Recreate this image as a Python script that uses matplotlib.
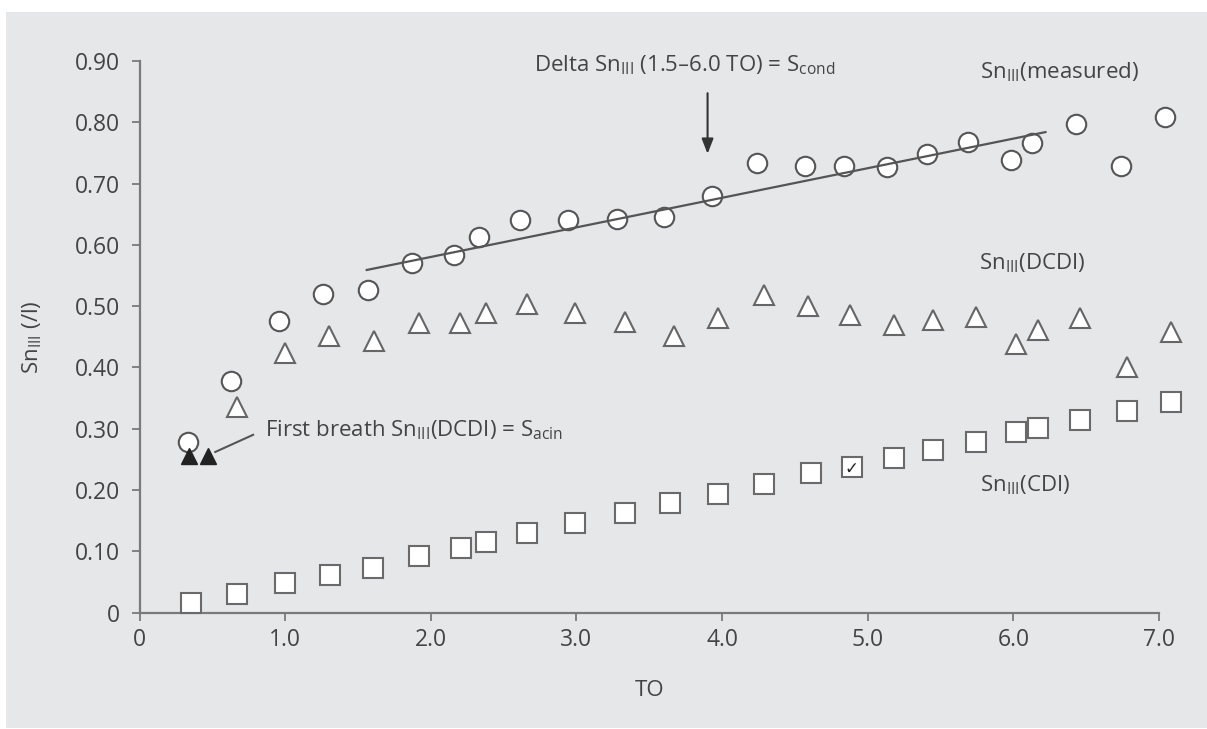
import matplotlib
matplotlib.use("Agg")
import matplotlib.pyplot as plt
from matplotlib.patches import Rectangle

plt.rcParams["font.family"] = ["Open Sans", "DejaVu Sans"]

TEXT_COLOR = "#444444"
AXIS_COLOR = "#7a7a7a"
PANEL_COLOR = "#e6e7e9"

# Sn_III (measured)
measured_to = [0.33, 0.63, 0.96, 1.26, 1.57, 1.87, 2.16, 2.33, 2.61, 2.94, 3.28, 3.60,
               3.93, 4.24, 4.57, 4.84, 5.13, 5.41, 5.69, 5.98, 6.13, 6.43, 6.74, 7.04]
measured_sn = [0.279, 0.377, 0.476, 0.520, 0.527, 0.571, 0.584, 0.612, 0.640, 0.640, 0.642, 0.645,
               0.679, 0.733, 0.728, 0.728, 0.727, 0.749, 0.768, 0.738, 0.767, 0.798, 0.728, 0.809]

# Sn_III (DCDI)
dcdi_to = [0.67, 1.00, 1.30, 1.61, 1.92, 2.20, 2.38, 2.66, 2.99, 3.33, 3.67, 3.97,
           4.29, 4.59, 4.88, 5.18, 5.45, 5.74, 6.02, 6.17, 6.46, 6.78, 7.08]
dcdi_sn = [0.336, 0.423, 0.451, 0.443, 0.472, 0.472, 0.489, 0.504, 0.489, 0.474, 0.451, 0.480,
           0.518, 0.500, 0.485, 0.469, 0.478, 0.482, 0.438, 0.461, 0.480, 0.400, 0.458]

# Sn_III (CDI)
cdi_to = [0.35, 0.67, 1.00, 1.31, 1.60, 1.92, 2.21, 2.38, 2.66, 2.99, 3.33, 3.64,
          3.97, 4.29, 4.61, 4.89, 5.18, 5.45, 5.74, 6.02, 6.17, 6.46, 6.78, 7.08]
cdi_sn = [0.016, 0.031, 0.048, 0.062, 0.073, 0.093, 0.106, 0.115, 0.130, 0.146, 0.163, 0.178,
          0.193, 0.210, 0.228, 0.237, 0.252, 0.265, 0.279, 0.294, 0.301, 0.314, 0.329, 0.344]

# first breath Sn_III (DCDI) = S_acin
first_breath_to = [0.34, 0.47]
first_breath_sn = [0.255, 0.255]

# linear fit 1.5-6.0 TO
fit_to = [1.56, 6.22]
fit_sn = [0.559, 0.784]

x_ticks = [0, 1, 2, 3, 4, 5, 6, 7]
x_tick_labels = ["0", "1.0", "2.0", "3.0", "4.0", "5.0", "6.0", "7.0"]
y_ticks = [0, 0.1, 0.2, 0.3, 0.4, 0.5, 0.6, 0.7, 0.8, 0.9]
y_tick_labels = ["0", "0.10", "0.20", "0.30", "0.40", "0.50", "0.60", "0.70", "0.80", "0.90"]

SUB = r"$_{\mathregular{III}}$"

fig = plt.figure(figsize=(12.07, 7.29), dpi=100, facecolor="white")
fig.patches.append(Rectangle((6 / 1207, 1 - 728 / 729), 1 - 6 / 1207, (728 - 12) / 729,
                             transform=fig.transFigure, facecolor=PANEL_COLOR,
                             edgecolor="none", zorder=-10))

ax = fig.add_axes([0.1156, 0.1598, 0.8447, 0.7565])
ax.set_facecolor("none")
ax.set_xlim(0, 7)
ax.set_ylim(0, 0.9)

for side in ["top", "right"]:
    ax.spines[side].set_visible(False)
for side in ["left", "bottom"]:
    ax.spines[side].set_color(AXIS_COLOR)
    ax.spines[side].set_linewidth(1.6)

ax.set_xticks(x_ticks)
ax.set_xticklabels(x_tick_labels)
ax.set_yticks(y_ticks)
ax.set_yticklabels(y_tick_labels)
ax.tick_params(axis="both", colors=AXIS_COLOR, labelcolor=TEXT_COLOR, labelsize=16.5,
               length=6, width=1.3, direction="out")
ax.tick_params(axis="y", pad=8)
ax.tick_params(axis="x", pad=5)

ax.set_xlabel("TO", fontsize=16, color=TEXT_COLOR, labelpad=20)
ax.set_ylabel("Sn" + SUB + " (/l)", fontsize=16, color=TEXT_COLOR, labelpad=22)

marker_style = dict(linestyle="none", markerfacecolor="white", markersize=14,
                    markeredgewidth=1.5, clip_on=False)
ax.plot(measured_to, measured_sn, marker="o", markeredgecolor="#555555", zorder=3, **marker_style)
ax.plot(dcdi_to, dcdi_sn, marker="^", markeredgecolor="#666666", zorder=3, **marker_style)
ax.plot(cdi_to, cdi_sn, marker="s", markeredgecolor="#6a6a6a", zorder=3, **marker_style)

ax.plot(fit_to, fit_sn, color="#555555", linewidth=1.6, zorder=4)

ax.plot(first_breath_to, first_breath_sn, linestyle="none", marker="^", markersize=12,
        markerfacecolor="#222222", markeredgecolor="#222222", zorder=5)
ax.plot([0.78, 0.52], [0.290, 0.262], color="#555555", linewidth=1.5, zorder=4)

# check mark inside one CDI square
ax.text(4.89, 0.235, "\u2713", fontsize=12, color="#222222", ha="center", va="center",
        family="DejaVu Sans", zorder=5)

ax.annotate("", xy=(3.90, 0.744), xytext=(3.90, 0.852),
            arrowprops=dict(arrowstyle="-|>,head_width=0.35,head_length=0.9",
                            color="#333333", linewidth=1.5))

text_style = dict(fontsize=16, color=TEXT_COLOR, va="center", ha="left")
ax.text(2.706, 0.893, "Delta Sn" + SUB + r" (1.5–6.0 TO) = S$_{\mathregular{cond}}$", **text_style)
ax.text(5.773, 0.882, "Sn" + SUB + "(measured)", **text_style)
ax.text(5.761, 0.570, "Sn" + SUB + "(DCDI)", **text_style)
ax.text(5.773, 0.208, "Sn" + SUB + "(CDI)", **text_style)
ax.text(0.862, 0.298, "First breath Sn" + SUB + r"(DCDI) = S$_{\mathregular{acin}}$", **text_style)

fig.savefig("out.png", dpi=100, facecolor=fig.get_facecolor())
